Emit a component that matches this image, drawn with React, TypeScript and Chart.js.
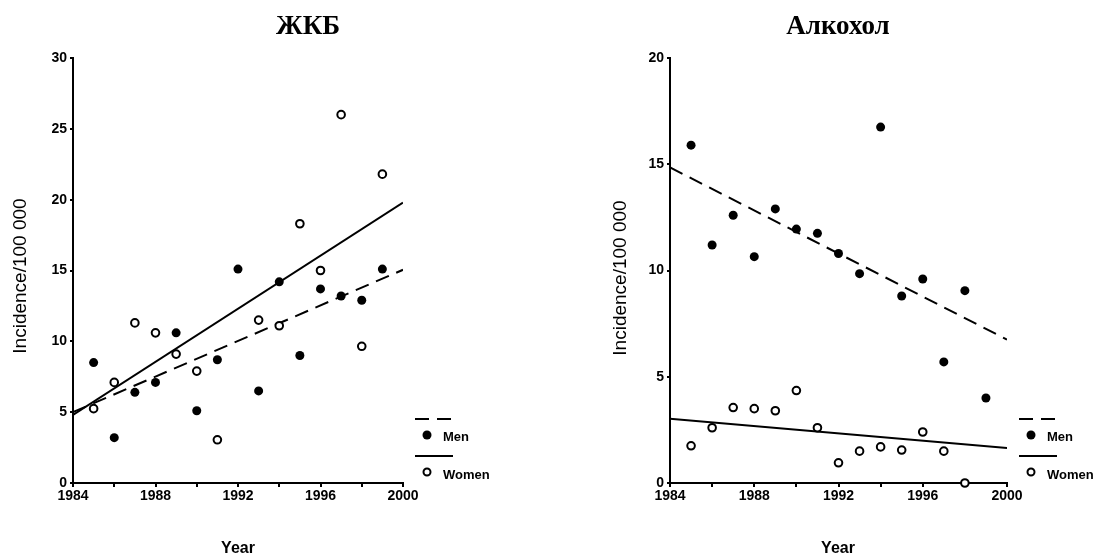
import React, { useEffect, useRef } from 'react';
import { Chart, registerables } from 'chart.js';

Chart.register(...registerables);

// ---------- data ----------
const years = [1985, 1986, 1987, 1988, 1989, 1990, 1991, 1992, 1993, 1994, 1995, 1996, 1997, 1998, 1999];

// ЖКБ panel
const gallMen = [8.5, 3.2, 6.4, 7.1, 10.6, 5.1, 8.7, 15.1, 6.5, 14.2, 9.0, 13.7, 13.2, 12.9, 15.1];
const gallWomen = [5.25, 7.1, 11.3, 10.6, 9.1, 7.9, 3.05, null, 11.5, 11.1, 18.3, 15.0, 26.0, 9.65, 21.8];

// Алкохол panel
const alcMen = [15.9, 11.2, 12.6, 10.65, 12.9, 11.95, 11.75, 10.8, 9.85, 16.75, 8.8, 9.6, 5.7, 9.05, 4.0];
const alcWomen = [1.75, 2.6, 3.55, 3.5, 3.4, 4.35, 2.6, 0.95, 1.5, 1.7, 1.55, 2.4, 1.5, 0.0, null];

// fitted trend lines (endpoints)
const trendYears = [1984, 2000];
const gallMenTrend = [5.0, 15.05];
const gallWomenTrend = [4.8, 19.8];
const alcMenTrend = [14.85, 6.75];
const alcWomenTrend = [3.02, 1.65];

const xLabelYears = [1984, 1988, 1992, 1996, 2000];
const gallYMax = 30;
const alcYMax = 20;
const legendLabels = ['Men', 'Women'];
const titles = ['ЖКБ', 'Алкохол'];
const xTitle = 'Year';
const yTitle = 'Incidence/100 000';

const SANS = '"Liberation Sans", Arial, sans-serif';
const SERIF = '"Liberation Serif", "Times New Roman", serif';

const toPoints = (xs: number[], ys: (number | null)[]) =>
  xs.map((x, i) => ({ x, y: ys[i] })).filter((p) => p.y !== null) as { x: number; y: number }[];

const sideLegend = {
  id: 'sideLegend',
  afterDraw(chart: any) {
    const { ctx, chartArea } = chart;
    const ds = chart.data.datasets;
    const menTrend = ds[2];
    const womenTrend = ds[3];
    const x0 = chartArea.right + 12;
    const b = chartArea.bottom;
    ctx.save();
    ctx.strokeStyle = '#000';
    ctx.lineWidth = 2;
    ctx.setLineDash(menTrend.borderDash || []);
    ctx.beginPath();
    ctx.moveTo(x0, b - 64);
    ctx.lineTo(x0 + 38, b - 64);
    ctx.stroke();
    ctx.setLineDash(womenTrend.borderDash || []);
    ctx.beginPath();
    ctx.moveTo(x0, b - 27);
    ctx.lineTo(x0 + 38, b - 27);
    ctx.stroke();
    ctx.setLineDash([]);
    ctx.fillStyle = '#000';
    ctx.beginPath();
    ctx.arc(x0 + 12, b - 48, 4.5, 0, Math.PI * 2);
    ctx.fill();
    ctx.beginPath();
    ctx.arc(x0 + 12, b - 11, 3.5, 0, Math.PI * 2);
    ctx.fillStyle = '#fff';
    ctx.fill();
    ctx.lineWidth = 2;
    ctx.stroke();
    ctx.fillStyle = '#000';
    ctx.font = 'bold 13px ' + SANS;
    ctx.textBaseline = 'middle';
    ctx.textAlign = 'left';
    ctx.fillText(legendLabels[0], x0 + 28, b - 46);
    ctx.fillText(legendLabels[1], x0 + 28, b - 8);
    ctx.restore();
  },
};

function makeConfig(
  men: (number | null)[],
  women: (number | null)[],
  menTrend: number[],
  womenTrend: number[],
  yMax: number,
  yAxisWidth: number,
  padRight: number
): any {
  return {
    type: 'scatter',
    data: {
      datasets: [
        {
          label: legendLabels[0],
          data: toPoints(years, men),
          pointRadius: 4.5,
          pointBackgroundColor: '#000',
          pointBorderWidth: 0,
          clip: false,
        },
        {
          label: legendLabels[1],
          data: toPoints(years, women),
          pointRadius: 3.8,
          pointBackgroundColor: '#fff',
          pointBorderColor: '#000',
          pointBorderWidth: 2,
          clip: false,
        },
        {
          label: legendLabels[0] + ' trend',
          data: toPoints(trendYears, menTrend),
          showLine: true,
          pointRadius: 0,
          borderColor: '#000',
          borderWidth: 2,
          borderDash: [14, 8],
        },
        {
          label: legendLabels[1] + ' trend',
          data: toPoints(trendYears, womenTrend),
          showLine: true,
          pointRadius: 0,
          borderColor: '#000',
          borderWidth: 2,
          borderDash: [],
        },
      ],
    },
    options: {
      responsive: false,
      animation: false,
      layout: { padding: { left: 0, right: padRight, top: 58, bottom: 0 } },
      plugins: { legend: { display: false }, tooltip: { enabled: false }, title: { display: false } },
      scales: {
        x: {
          type: 'linear',
          min: 1984,
          max: 2000,
          afterFit: (s: any) => {
            s.height = 74;
          },
          ticks: {
            stepSize: 2,
            autoSkip: false,
            maxRotation: 0,
            padding: 1,
            color: '#000',
            font: { family: SANS, size: 14, weight: 'bold' },
            callback: (v: number) => (xLabelYears.includes(v) ? String(v) : ''),
          },
          grid: { drawOnChartArea: false, drawTicks: true, tickLength: 4, color: '#000', lineWidth: 2 },
          border: { display: true, color: '#000', width: 2 },
        },
        y: {
          type: 'linear',
          min: 0,
          max: yMax,
          afterFit: (s: any) => {
            s.width = yAxisWidth;
          },
          ticks: {
            stepSize: 5,
            padding: 3,
            color: '#000',
            font: { family: SANS, size: 14, weight: 'bold' },
          },
          grid: { drawOnChartArea: false, drawTicks: true, tickLength: 3, color: '#000', lineWidth: 2 },
          border: { display: true, color: '#000', width: 2 },
        },
      },
    },
    plugins: [sideLegend],
  };
}

function Panel(props: { cfg: () => any; left: number; width: number }) {
  const ref = useRef<HTMLCanvasElement | null>(null);
  useEffect(() => {
    if (!ref.current) return;
    const chart = new Chart(ref.current, props.cfg());
    return () => chart.destroy();
  }, []);
  return (
    <canvas
      ref={ref}
      width={props.width}
      height={557}
      style={{ position: 'absolute', left: props.left, top: 0, width: props.width, height: 557 }}
    />
  );
}

const textBase: React.CSSProperties = { position: 'absolute', color: '#000', whiteSpace: 'nowrap', textAlign: 'center' };

export default function App() {
  return (
    <div style={{ position: 'fixed', left: 0, top: 0, width: 1099, height: 557, background: '#fff', overflow: 'hidden' }}>
      <Panel left={0} width={549} cfg={() => makeConfig(gallMen, gallWomen, gallMenTrend, gallWomenTrend, gallYMax, 73, 146)} />
      <Panel left={549} width={550} cfg={() => makeConfig(alcMen, alcWomen, alcMenTrend, alcWomenTrend, alcYMax, 121, 92)} />

      <div style={{ ...textBase, left: 308 - 100, width: 200, top: 12, fontFamily: SERIF, fontWeight: 'bold', fontSize: 27, lineHeight: '27px' }}>{titles[0]}</div>
      <div style={{ ...textBase, left: 838 - 100, width: 200, top: 12, fontFamily: SERIF, fontWeight: 'bold', fontSize: 27, lineHeight: '27px' }}>{titles[1]}</div>

      <div style={{ ...textBase, left: 20 - 120, width: 240, top: 276 - 12, height: 24, lineHeight: '24px', fontFamily: SANS, fontSize: 19, transform: 'rotate(-90deg)' }}>{yTitle}</div>
      <div style={{ ...textBase, left: 620 - 120, width: 240, top: 278 - 12, height: 24, lineHeight: '24px', fontFamily: SANS, fontSize: 19, transform: 'rotate(-90deg)' }}>{yTitle}</div>

      <div style={{ ...textBase, left: 238 - 60, width: 120, top: 539, lineHeight: '18px', fontFamily: SANS, fontWeight: 'bold', fontSize: 16 }}>{xTitle}</div>
      <div style={{ ...textBase, left: 838 - 60, width: 120, top: 539, lineHeight: '18px', fontFamily: SANS, fontWeight: 'bold', fontSize: 16 }}>{xTitle}</div>
    </div>
  );
}
